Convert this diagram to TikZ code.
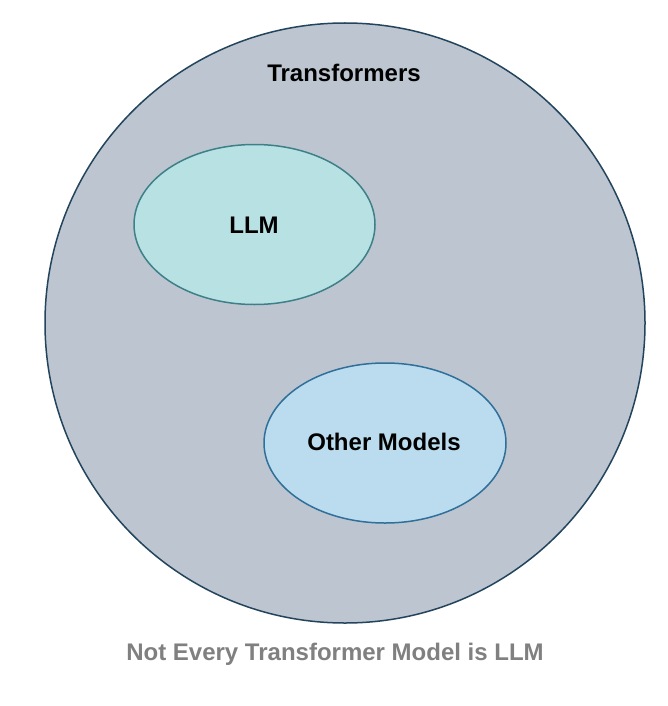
\documentclass[tikz,border=0pt]{standalone}
\usepackage{fontspec}
\setmainfont{Liberation Sans}
\usetikzlibrary{shapes.geometric}
\definecolor{outerfill}{HTML}{BDC6D0}
\definecolor{outerline}{HTML}{23445D}
\definecolor{llmfill}{HTML}{B8E1E3}
\definecolor{llmline}{HTML}{3E8088}
\definecolor{othfill}{HTML}{BADCEE}
\definecolor{othline}{HTML}{2F6F9A}
\definecolor{captgray}{HTML}{808080}
\tikzset{
  lbl/.style={font=\fontsize{24}{28}\selectfont\bfseries, inner sep=0pt},
  setshape/.style={ellipse, inner sep=0pt, line width=1.5pt}
}
\begin{document}
\begin{tikzpicture}[x=1pt,y=-1pt]
\useasboundingbox (0,0) rectangle (668,706);
\fill[white] (0,0) rectangle (668,706);
\node[circle, draw=outerline, fill=outerfill, line width=1.5pt, minimum size=600pt, inner sep=0pt] (trans) at (345,323) {};
\node[setshape, draw=llmline, fill=llmfill, minimum width=241pt, minimum height=160pt] (llm) at (254.5,224.5) {};
\node[setshape, draw=othline, fill=othfill, minimum width=242pt, minimum height=160pt] (oth) at (385,443) {};
\node[lbl] (tlbl) at (344,73) {Transformers};
\node[lbl] (llbl) at (254,225) {LLM};
\node[lbl] (olbl) at (384,442) {Other Models};
\node[lbl, text=captgray] (cap) at (335,654) {Not Every Transformer Model is LLM};
\end{tikzpicture}
\end{document}
